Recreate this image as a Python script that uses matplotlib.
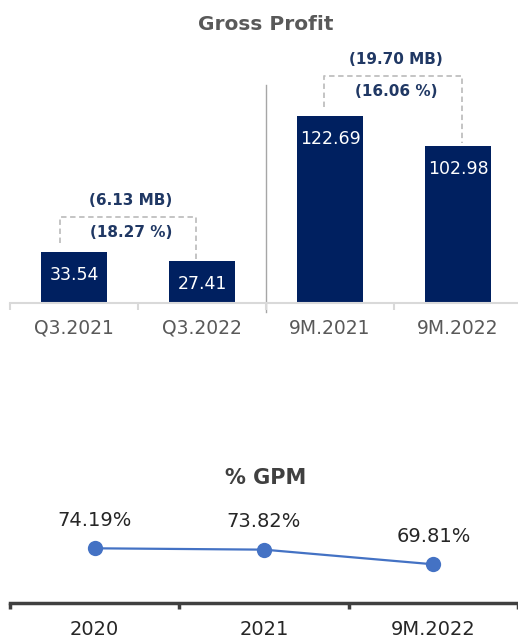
import matplotlib
matplotlib.use("Agg")
import matplotlib.pyplot as plt

# ---- data ----
gp_categories = ["Q3.2021", "Q3.2022", "9M.2021", "9M.2022"]
gp_values = [33.54, 27.41, 122.69, 102.98]
gp_value_labels = ["33.54", "27.41", "122.69", "102.98"]
change_pairs = [(0, 1), (2, 3)]
change_mb = ["(6.13 MB)", "(19.70 MB)"]
change_pct = ["(18.27 %)", "(16.06 %)"]

gpm_categories = ["2020", "2021", "9M.2022"]
gpm_values = [74.19, 73.82, 69.81]
gpm_labels = ["74.19%", "73.82%", "69.81%"]

W, H = 518, 639
fig = plt.figure(figsize=(W / 100, H / 100), dpi=100)
plt.rcParams['font.family'] = ['DejaVu Sans']

NAVY = "#002060"
ANNO = "#203864"
GRAY_TXT = "#595959"

def fx(px):
    return px / W

def fy(py):
    return 1 - py / H

# ---------------- top chart ----------------
ax = fig.add_axes([fx(10), fy(303.3), 1 - fx(10), fy(20) - fy(303.3)])
x = list(range(len(gp_categories)))
ax.bar(x, gp_values, width=0.51, color=NAVY, zorder=2)
ax.set_xlim(-0.5, (W - 10) / 128 - 0.5)
ax.set_ylim(0, (303.3 - 20) / 1.529)
for s in ["top", "right", "left"]:
    ax.spines[s].set_visible(False)
ax.spines["bottom"].set_color("#d9d9d9")
ax.spines["bottom"].set_linewidth(1.5)
ax.set_yticks([])
ax.set_xticks(x)
ax.set_xticklabels(gp_categories, fontsize=13.5, color=GRAY_TXT)
ax.tick_params(axis="x", which="major", length=0, pad=11)
ax.set_xticks([i - 0.5 for i in range(len(gp_categories))], minor=True)
ax.tick_params(axis="x", which="minor", length=5, width=1.5, color="#d9d9d9", direction="out")

for xi, v, lab in zip(x, gp_values, gp_value_labels):
    ax.annotate(lab, (xi, v), xytext=(0, -16.5), textcoords="offset points",
                ha="center", va="center", color="white", fontsize=12.5)

# separator between Q3 and 9M groups
ax.plot([1.5, 1.5], [-5.8, 142.8], color="#a6a6a6", lw=1.0, clip_on=False, zorder=1)

# change brackets: (left dx, right dx, height above taller bar, left gap, right gap)
bracket_specs = [(-0.11, -0.05, 23.0, 6.0, 1.8), (-0.05, 0.03, 26.0, 6.0, 2.0)]
for (i, j), mb, pct, (dxl, dxr, up, gl, gr) in zip(change_pairs, change_mb, change_pct, bracket_specs):
    top = max(gp_values[i], gp_values[j]) + up
    xl, xr = i + dxl, j + dxr
    ax.plot([xl, xl, xr, xr], [gp_values[i] + gl, top, top, gp_values[j] + gr],
            color="#bfbfbf", lw=1.3, ls=(0, (3, 2)), zorder=1)
    xm = (xl + xr) / 2 + 0.025
    ax.annotate(mb, (xm, top), xytext=(0, 12), textcoords="offset points",
                ha="center", va="center", color=ANNO, fontsize=11, fontweight="bold")
    ax.annotate(pct, (xm, top), xytext=(0, -11.5), textcoords="offset points",
                ha="center", va="center", color=ANNO, fontsize=11, fontweight="bold")

fig.text(fx(266), fy(25), "Gross Profit", ha="center", va="center",
         fontsize=14.5, fontweight="bold", color=GRAY_TXT)

# ---------------- bottom chart ----------------
ax2 = fig.add_axes([fx(10), fy(603.3), 1 - fx(10), fy(460) - fy(603.3)])
x2 = list(range(len(gpm_categories)))
ax2.plot(x2, gpm_values, color="#4472C4", lw=1.6, marker="o", markersize=11,
         markerfacecolor="#4472C4", markeredgecolor="#4472C4", markeredgewidth=0)
ax2.set_xlim(-0.5, (W - 10) / 171 - 0.5)
ymin = 74.19 - (603.3 - 548.3) / 3.653
ax2.set_ylim(ymin, ymin + (603.3 - 460) / 3.653)
for s in ["top", "right", "left"]:
    ax2.spines[s].set_visible(False)
ax2.spines["bottom"].set_color("#404040")
ax2.spines["bottom"].set_linewidth(2.5)
ax2.set_yticks([])
ax2.set_xticks(x2)
ax2.set_xticklabels(gpm_categories, fontsize=14, color="#262626")
ax2.tick_params(axis="x", which="major", length=0, pad=12)
ax2.set_xticks([i - 0.5 for i in range(len(gpm_categories) + 1)], minor=True)
ax2.tick_params(axis="x", which="minor", length=4, width=2.5, color="#404040", direction="out")

for xi, v, lab in zip(x2, gpm_values, gpm_labels):
    ax2.annotate(lab, (xi, v), xytext=(0, 20), textcoords="offset points",
                 ha="center", va="center", color="#262626", fontsize=14)

fig.text(fx(266), fy(478), "% GPM", ha="center", va="center",
         fontsize=15, fontweight="bold", color="#404040")

fig.savefig("out.png", dpi=100, facecolor="white")
